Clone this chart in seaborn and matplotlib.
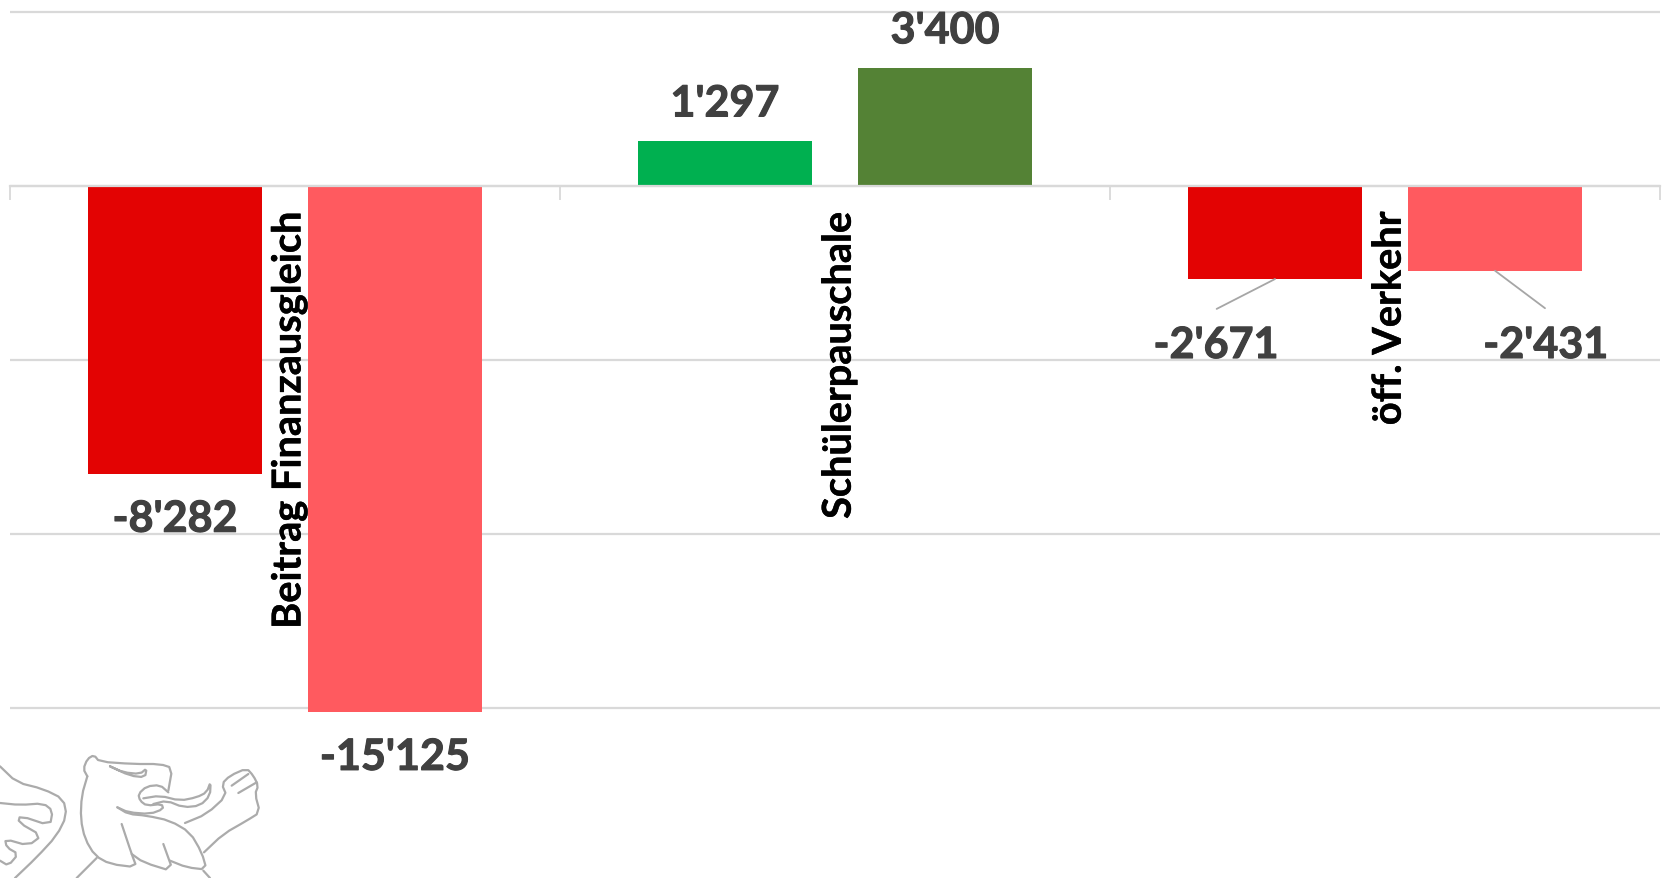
import numpy as np
import pandas as pd
import matplotlib
matplotlib.use('Agg')
import matplotlib.pyplot as plt
import matplotlib.patheffects as pe
from matplotlib.transforms import ScaledTranslation
import seaborn as sns

categories = ['Beitrag Finanzausgleich', 'Schülerpauschale', 'öff. Verkehr']
series_names = ['A', 'B']
values_a = [-8282, 1297, -2671]
values_b = [-15125, 3400, -2431]
bar_colors_a = ['#E30303', '#00B050', '#E30303']
bar_colors_b = ['#FF5A5F', '#548235', '#FF5A5F']
y_ticks = [-15000, -10000, -5000, 0, 5000]

GRID = '#D9D9D9'
LABEL = '#404040'
LEADER = '#A6A6A6'

sns.set_theme(style='white')
plt.rcParams['font.family'] = ['Lato', 'DejaVu Sans']

df = pd.DataFrame({
    'cat': categories * 2,
    'series': [series_names[0]] * 3 + [series_names[1]] * 3,
    'value': values_a + values_b,
})

fig = plt.figure(figsize=(16.62, 8.79), dpi=100)
ax = fig.add_axes([10 / 1662, 0, 1650 / 1662, 1])
sns.barplot(data=df, x='cat', y='value', hue='series', hue_order=series_names,
            width=0.8, gap=0.21, legend=False, ax=ax, zorder=3, saturation=1)

# excel colours every point on its own
bars = [b for c in ax.containers for b in c]
for b, col in zip(bars, bar_colors_a + bar_colors_b):
    b.set_facecolor(col)
    b.set_edgecolor('none')

ax.set_xlim(-0.5, 2.5)
ax.set_ylim(-19882, 5376)
ax.set_yticks(y_ticks)
ax.set_yticklabels([])
ax.set_xlabel('')
ax.set_ylabel('')
ax.tick_params(axis='y', length=0)
ax.grid(axis='y', color=GRID, lw=1.6, zorder=0)
ax.set_axisbelow(True)
# labels have to stay on top of the grid lines
ax.xaxis.set_zorder(3.5)
for s in ['top', 'left', 'right']:
    ax.spines[s].set_visible(False)
ax.spines['bottom'].set_position(('data', 0))
ax.spines['bottom'].set_color(GRID)
ax.spines['bottom'].set_linewidth(1.6)
ax.spines['bottom'].set_zorder(4)

# category labels sit under the zero line, ticks mark the group borders
ax.set_xticks(range(3))
ax.set_xticklabels(categories, rotation=90, fontsize=28.6, fontweight='bold', color='black',
                   va='top', ha='center')
ax.tick_params(axis='x', which='major', length=0, pad=18.5)
ax.set_xticks([-0.5, 0.5, 1.5, 2.5], minor=True)
ax.tick_params(axis='x', which='minor', bottom=True, length=10, width=1.3, color=GRID, direction='out')
nudge = ScaledTranslation(4.2 / 100, 0, fig.dpi_scale_trans)
for t in ax.get_xticklabels():
    t.set_transform(t.get_transform() + nudge)
    t.set_path_effects([pe.withStroke(linewidth=0.3, foreground='black')])

# value labels: offset in points from the end of each bar
label_offsets = [(0, -32), (0, 27), (-42.5, -47.5), (0, -32), (0, 27), (36.5, -53.5)]
for b, (dx, dy) in zip(bars, label_offsets):
    val = int(round(b.get_y() + b.get_height())) if b.get_height() > 0 else int(round(b.get_y()))
    if b.get_height() < 0:
        val = int(round(b.get_y() + b.get_height()))
    elif b.get_y() < 0:
        val = int(round(b.get_y()))
    ax.annotate(f'{val:,}'.replace(',', "'"),
                xy=(b.get_x() + b.get_width() / 2, val), xytext=(dx, dy),
                textcoords='offset points', ha='center', va='center',
                fontsize=31, fontweight='bold', color=LABEL, zorder=5,
                path_effects=[pe.withStroke(linewidth=0.8, foreground=LABEL)])

# leader lines for the two small negative bars
for b, end in [(bars[2], (-42, -21.5)), (bars[5], (36, -27))]:
    ax.annotate('', xy=(b.get_x() + b.get_width() / 2, b.get_y() + b.get_height()),
                xytext=end, textcoords='offset points',
                arrowprops=dict(arrowstyle='-', color=LEADER, lw=1.3, shrinkA=0, shrinkB=0))


def chaikin(pts, n=1):
    pts = np.array(pts, dtype=float)
    for _ in range(n):
        q = 0.75 * pts[:-1] + 0.25 * pts[1:]
        r = 0.25 * pts[:-1] + 0.75 * pts[1:]
        mid = np.empty((len(q) * 2, 2))
        mid[0::2] = q
        mid[1::2] = r
        pts = np.vstack([pts[0], mid, pts[-1]])
    return pts


# heraldic lion watermark in crop coordinates
logo_strokes = [
    [(262, 292), (250, 270), (262, 240), (282, 228), (298, 248), (400, 255), (480, 255), (517, 267), (505, 335)],
    [(262, 292), (245, 350), (242, 420), (255, 480), (285, 530), (330, 555), (410, 565), (395, 525), (365, 435)],
    [(395, 525), (430, 550), (520, 578), (490, 495)],
    [(510, 545), (560, 565), (620, 572), (605, 520), (570, 460), (510, 425), (440, 410), (385, 405), (352, 385)],
    [(352, 385), (385, 400), (450, 405), (490, 390), (485, 375), (440, 380), (420, 365), (415, 345), (440, 322), (480, 318), (505, 340)],
    [(430, 358), (480, 350), (540, 365), (590, 355), (620, 340), (632, 308), (630, 350), (600, 380), (550, 385), (500, 365), (460, 375)],
    [(330, 262), (390, 290), (435, 295), (440, 268), (420, 285), (370, 280), (330, 262)],
    [(555, 432), (620, 405), (680, 350), (665, 315), (690, 290), (740, 268), (760, 290), (775, 320), (765, 345), (780, 400), (740, 425), (670, 465), (612, 520)],
    [(695, 320), (745, 285)],
    [(715, 342), (770, 310)],
    [(230, 597), (290, 537)],
    [(610, 575), (630, 597)],
    [(0, 262), (50, 310), (130, 330), (190, 360), (200, 410), (170, 470), (110, 535), (45, 597)],
    [(0, 372), (60, 378), (130, 373), (158, 395), (150, 440), (60, 410), (55, 430), (125, 470), (85, 500), (15, 480), (20, 505), (55, 525), (25, 560), (0, 545)],
]
over = fig.add_axes([0, 0, 1, 1], facecolor='none')
over.set_xlim(0, 1662)
over.set_ylim(879, 0)
over.axis('off')
for stroke in logo_strokes:
    p = chaikin(stroke)
    over.plot(p[:, 0] / 3, 680 + p[:, 1] / 3, color='#ABABAB', lw=1.6)

plt.savefig('out.png', dpi=100)
